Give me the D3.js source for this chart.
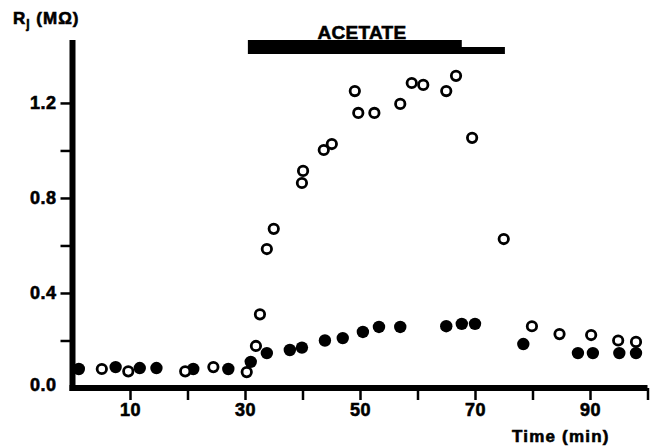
<!DOCTYPE html>
<html>
<head>
<meta charset="utf-8">
<script src="https://cdn.jsdelivr.net/npm/d3@7"></script>
<style>
  body { margin: 0; background: #fff; }
  text { font-family: "Liberation Sans", Arial, sans-serif; font-weight: bold; fill: #000; stroke: #000; stroke-width: 0.6; }
</style>
</head>
<body>
<div id="chart"></div>
<script>
// data
var filledTime = [1.1, 7.5, 11.7, 14.6, 21, 27.1, 31, 33.8, 37.8, 39.9, 43.9, 47, 50.5, 53.3, 57, 65, 67.7, 70, 78.4, 87.9, 90.5, 95.1, 98];
var filledR = [0.08, 0.088, 0.084, 0.084, 0.08, 0.08, 0.11, 0.147, 0.16, 0.17, 0.2, 0.21, 0.236, 0.257, 0.257, 0.26, 0.27, 0.27, 0.185, 0.147, 0.147, 0.147, 0.147];

var openTime = [5.1, 9.7, 19.6, 24.5, 30.3, 31.9, 32.6, 33.8, 35, 39.9, 40.1, 43.7, 45.1, 49.1, 49.7, 52.5, 57, 59, 61, 65, 66.7, 69.5, 75, 79.9, 84.7, 90.2, 94.9, 98];
var openR = [0.08, 0.07, 0.07, 0.088, 0.067, 0.177, 0.31, 0.585, 0.67, 0.863, 0.914, 1.002, 1.027, 1.25, 1.158, 1.158, 1.196, 1.284, 1.276, 1.25, 1.314, 1.053, 0.627, 0.26, 0.227, 0.223, 0.2, 0.194];

// acetate application periods (min)
var acetateStart = [30.5, 30.5];
var acetateEnd = [67.7, 75.2];

var xTicks = [10, 20, 30, 40, 50, 60, 70, 80, 90, 100];
var xLabels = [10, 30, 50, 70, 90];
var yTicks = [0.2, 0.4, 0.6, 0.8, 1.0, 1.2];
var yLabels = [0.0, 0.4, 0.8, 1.2];

var svgWidth = 652;
var svgHeight = 447;

var svg = d3.select("#chart")
    .append("svg")
    .attr("width", svgWidth)
    .attr("height", svgHeight);

var x = d3.scaleLinear().domain([0, 100]).range([72.5, 647.5]);
var y = d3.scaleLinear().domain([0, 1.465]).range([388, 40]);

// x ticks
var xAxis = d3.axisBottom(x)
    .tickValues(xTicks)
    .tickSize(12)
    .tickPadding(3)
    .tickFormat(function(d) { return xLabels.indexOf(d) >= 0 ? d : ""; });

svg.append("g")
    .attr("transform", "translate(0," + y(0) + ")")
    .call(xAxis)
    .call(function(g) { g.select(".domain").remove(); })
    .call(function(g) {
        g.selectAll("line").attr("stroke", "#000").attr("stroke-width", 2.5);
        g.selectAll("text").attr("font-size", 18).attr("letter-spacing", 0.5);
    });

// y ticks
var yAxis = d3.axisLeft(y)
    .tickValues(yTicks)
    .tickSize(12)
    .tickPadding(4)
    .tickFormat(function(d) { return yLabels.indexOf(d) >= 0 ? d3.format(".1f")(d) : ""; });

svg.append("g")
    .attr("transform", "translate(" + x(0) + ",0)")
    .call(yAxis)
    .call(function(g) { g.select(".domain").remove(); })
    .call(function(g) {
        g.selectAll("line").attr("stroke", "#000").attr("stroke-width", 2.5);
        g.selectAll("text").attr("font-size", 18).attr("letter-spacing", 0.5);
    });

// 0.0 label at the corner
svg.append("text")
    .attr("x", x(0) - 16)
    .attr("y", y(0) - 3)
    .attr("dy", "0.32em")
    .attr("text-anchor", "end")
    .attr("font-size", 18)
    .attr("letter-spacing", 0.5)
    .text("0.0");

// thick axis lines
svg.append("line")
    .attr("x1", x(0) - 3).attr("x2", x(100))
    .attr("y1", y(0)).attr("y2", y(0))
    .attr("stroke", "#000").attr("stroke-width", 6);

svg.append("line")
    .attr("x1", x(0)).attr("x2", x(0))
    .attr("y1", y(1.465)).attr("y2", y(0) + 3)
    .attr("stroke", "#000").attr("stroke-width", 6);

// acetate bars
var bars = acetateStart.map(function(s, i) { return {start: s, end: acetateEnd[i]}; });
svg.selectAll(".bar")
    .data(bars)
    .enter()
    .append("rect")
    .attr("class", "bar")
    .attr("x", function(d) { return x(d.start); })
    .attr("width", function(d) { return x(d.end) - x(d.start); })
    .attr("y", function(d, i) { return 40 + i * 7; })
    .attr("height", 7)
    .attr("fill", "#000");

svg.append("text")
    .attr("x", 362)
    .attr("y", 39)
    .attr("text-anchor", "middle")
    .attr("font-size", 19)
    .attr("letter-spacing", 0.3)
    .text("ACETATE");

// points
var filled = filledTime.map(function(t, i) { return {t: t, r: filledR[i]}; });
var open = openTime.map(function(t, i) { return {t: t, r: openR[i]}; });

svg.selectAll(".filled")
    .data(filled)
    .enter()
    .append("circle")
    .attr("class", "filled")
    .attr("cx", function(d) { return x(d.t); })
    .attr("cy", function(d) { return y(d.r); })
    .attr("r", 6.2)
    .attr("fill", "#000");

svg.selectAll(".open")
    .data(open)
    .enter()
    .append("circle")
    .attr("class", "open")
    .attr("cx", function(d) { return x(d.t); })
    .attr("cy", function(d) { return y(d.r); })
    .attr("r", 4.7)
    .attr("fill", "#fff")
    .attr("stroke", "#000")
    .attr("stroke-width", 2.8);

// axis titles
var yTitle = svg.append("text")
    .attr("x", 13)
    .attr("y", 24)
    .attr("font-size", 17)
    .attr("letter-spacing", 1);
yTitle.append("tspan").text("R");
yTitle.append("tspan").attr("font-size", 12).attr("dy", 4).text("j");
yTitle.append("tspan").attr("dy", -4).text(" (MΩ)");

svg.append("text")
    .attr("x", 512)
    .attr("y", 442)
    .attr("font-size", 17)
    .attr("letter-spacing", 1.2)
    .text("Time (min)");
</script>
</body>
</html>
